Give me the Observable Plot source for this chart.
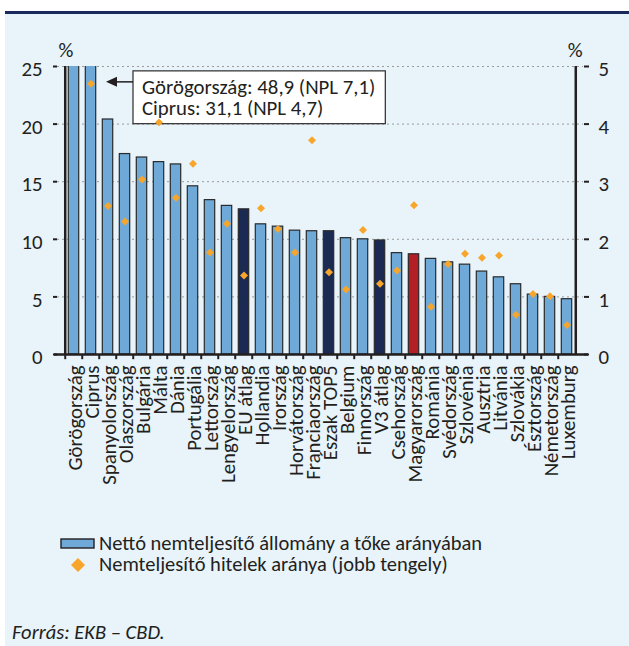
<!DOCTYPE html>
<html>
<head>
<meta charset="utf-8">
<script src="https://cdn.jsdelivr.net/npm/d3@7"></script>
<script src="https://cdn.jsdelivr.net/npm/@observablehq/plot@0.6"></script>
<style>
  body { margin: 0; background: #ffffff; font-family: Carlito, Calibri, Lato, sans-serif; color: #231f20; }
  #page { position: relative; width: 629px; height: 646px; overflow: hidden; }
  #topline { position: absolute; left: 5px; top: 11px; width: 624px; height: 3px; background: #1b2a5c; }
  #panel { position: absolute; left: 5px; top: 14px; right: 0; bottom: 0; background: #e8f3fa; }
  #chart { position: absolute; left: 0; top: 0; }
  #legend { position: absolute; left: 57px; top: 533px; font-size: 20.5px; line-height: 21px; }
  #legend .item { display: flex; align-items: center; white-space: nowrap; height: 21px; }
  #legend .key { width: 42px; display: flex; justify-content: center; }
  #caption { position: absolute; left: 12px; top: 620px; font-size: 20.5px; font-style: italic; line-height: 24px; }
</style>
</head>
<body>
<div id="page">
  <div id="topline"></div>
  <div id="panel"></div>
  <div id="chart"></div>
  <div id="legend">
    <div class="item"><span class="key"><svg width="36" height="11"><rect x="1" y="1" width="33" height="9" fill="#6fa9d8" stroke="#231f20" stroke-width="1.4"/></svg></span>Nettó nemteljesítő állomány a tőke arányában</div>
    <div class="item"><span class="key"><svg width="16" height="16"><path d="M8 1 L15 8 L8 15 L1 8 Z" fill="#f8a52c"/></svg></span>Nemteljesítő hitelek aránya (jobb tengely)</div>
  </div>
  <div id="caption">Forrás: EKB – CBD.</div>
</div>
<script>
// Categories (countries and group averages)
const countries = [
  "Görögország", "Ciprus", "Spanyolország", "Olaszország", "Bulgária", "Málta",
  "Dánia", "Portugália", "Lettország", "Lengyelország", "EU átlag", "Hollandia",
  "Írország", "Horvátország", "Franciaország", "Észak TOP5", "Belgium", "Finnország",
  "V3 átlag", "Csehország", "Magyarország", "Románia", "Svédország", "Szlovénia",
  "Ausztria", "Litvánia", "Szlovákia", "Észtország", "Németország", "Luxemburg"
];

// Net non-performing stock as a share of capital (%, left axis)
const netNpl = [
  48.9, 31.1, 20.4, 17.4, 17.1, 16.7,
  16.5, 14.6, 13.4, 12.9, 12.6, 11.3,
  11.1, 10.75, 10.7, 10.7, 10.1, 10.0,
  9.9, 8.8, 8.7, 8.3, 8.0, 7.8,
  7.2, 6.7, 6.1, 5.2, 5.0, 4.8
];

// Non-performing loan ratio (%, right axis)
const nplRatio = [
  7.1, 4.7, 2.58, 2.31, 3.04, 4.03,
  2.72, 3.31, 1.77, 2.27, 1.37, 2.54,
  2.18, 1.77, 3.72, 1.43, 1.13, 2.16,
  1.23, 1.46, 2.59, 0.83, 1.57, 1.75,
  1.68, 1.72, 0.69, 1.05, 1.01, 0.51
];

// Group averages and Hungary are highlighted
const averages = ["EU átlag", "Észak TOP5", "V3 átlag"];
const highlighted = ["Magyarország"];

const leftTicks = [0, 5, 10, 15, 20, 25];
const rightTicks = [0, 1, 2, 3, 4, 5];
const kinds = ["ország", "átlag", "Magyarország"];
const kindColors = ["#6fa9d8", "#1b2a52", "#b21f24"];

const leftMax = leftTicks[leftTicks.length - 1];
const rightMax = rightTicks[rightTicks.length - 1];
const k = leftMax / rightMax; // right axis values mapped onto the left scale

const rows = countries.map((c, i) => ({
  country: c,
  net: netNpl[i],
  npl: nplRatio[i],
  kind: highlighted.includes(c) ? kinds[2] : averages.includes(c) ? kinds[1] : kinds[0]
}));

const fmt = v => String(v).replace(".", ",");
const note = [0, 1].map(i => `${countries[i]}: ${fmt(netNpl[i])} (NPL ${fmt(nplRatio[i])})`).join("\n");

const W = 629, H = 500;
const mL = 57, mR = 46, mT = 66, mB = H - 354;
const step = (W - mL - mR) / countries.length;
const ink = "#231f20";
const fs = 20.8;
const family = "Carlito, Calibri, Lato, sans-serif";

const chart = Plot.plot({
  width: W,
  height: H,
  marginLeft: mL,
  marginRight: mR,
  marginTop: mT,
  marginBottom: mB,
  style: { background: "transparent", fontFamily: family, fontSize: `${fs}px`, color: ink },
  x: { domain: countries, padding: 0, axis: null },
  y: { domain: [0, leftMax], axis: null },
  color: { domain: kinds, range: kindColors },
  marks: [
    Plot.ruleY(leftTicks.slice(1), { stroke: "#9b9b9b", strokeWidth: 1, strokeDasharray: "2,3" }),
    Plot.barY(rows, {
      x: "country", y: "net", fill: "kind",
      stroke: "#2a2a2a", strokeWidth: 1.2,
      insetLeft: 3.3, insetRight: 3.3, clip: true
    }),
    Plot.dot(rows, {
      x: "country", y: d => d.npl * k,
      symbol: "diamond2", r: 3.6, fill: "#f8a52c", stroke: "none", clip: true
    }),
    // tick marks
    Plot.axisY({ anchor: "left", ticks: leftTicks, tickSize: 4, tickFormat: () => "", label: null, stroke: ink, strokeWidth: 2 }),
    Plot.axisY({ anchor: "right", ticks: rightTicks.map(v => v * k), tickFormat: () => "", tickSize: 5, label: null, stroke: ink, strokeWidth: 2 }),
    Plot.ruleX([countries[0]], { dx: -step / 2, y1: 0, y2: leftMax, stroke: ink, strokeWidth: 2.5 }),
    Plot.ruleX([countries[countries.length - 1]], { dx: step / 2, y1: 0, y2: leftMax, stroke: ink, strokeWidth: 2.5 }),
    Plot.ruleX(countries, { dx: -step / 2, y1: 0, y2: -0.45, stroke: ink, strokeWidth: 2 }),
    Plot.ruleY([0], { stroke: ink, strokeWidth: 2.5, insetLeft: -3, insetRight: -5 }),
    // tick labels
    Plot.text(leftTicks, { y: d => d, frameAnchor: "left", textAnchor: "end", dx: -15, dy: 3, fontSize: fs, fill: ink }),
    Plot.text(rightTicks, { y: d => d * k, text: d => String(d), frameAnchor: "right", textAnchor: "start", dx: 15, dy: 3, fontSize: fs, fill: ink }),
    Plot.text(countries, { x: d => d, text: d => d, frameAnchor: "bottom", rotate: -90, textAnchor: "end", lineAnchor: "middle", dy: 11, dx: 1, fontSize: fs, fill: ink }),
    // unit labels
    Plot.text(["%"], { frameAnchor: "top-left", textAnchor: "start", lineAnchor: "middle", dx: 1, dy: -16, fontSize: fs, fill: ink }),
    Plot.text(["%"], { frameAnchor: "top-right", textAnchor: "end", lineAnchor: "middle", dx: -1, dy: -16, fontSize: fs, fill: ink }),
    // annotation for the off-scale bars
    Plot.text([note], {
      x: () => countries[4], y: () => 22.3, text: d => d,
      textAnchor: "start", lineAnchor: "middle", lineHeight: 1.0,
      fontSize: fs, fill: ink
    })
  ]
});

document.getElementById("chart").appendChild(chart);

// Box and arrow behind the annotation, drawn beneath the diamonds
const svg = d3.select(chart);
const noteText = svg.selectAll("text").filter(function () {
  return this.textContent.startsWith(countries[0] + ":");
});
if (!noteText.empty()) {
  const node = noteText.node();
  const sr = chart.getBoundingClientRect();
  const tr = node.getBoundingClientRect();
  const bx = tr.left - sr.left, by = tr.top - sr.top;
  const x0 = bx - 9, y0 = by - 3, x1 = bx + tr.width + 10, y1 = by + tr.height + 3;
  const dots = svg.select('g[aria-label="dot"]');
  const before = dots.empty() ? node.parentNode : dots.node();
  const layer = svg.insert("g", () => before);
  layer.append("rect")
    .attr("x", x0).attr("y", y0).attr("width", x1 - x0).attr("height", y1 - y0)
    .attr("fill", "#ffffff").attr("stroke", "#3a3a3a").attr("stroke-width", 1.3);
  const xs = chart.scale("x");
  const tip = xs.apply(countries[2]) + 7;
  const ay = y0 + 11;
  layer.append("line").attr("x1", x0).attr("x2", tip + 8).attr("y1", ay).attr("y2", ay)
    .attr("stroke", ink).attr("stroke-width", 1.5);
  layer.append("path").attr("d", `M${tip},${ay} L${tip + 11},${ay - 5} L${tip + 11},${ay + 5} Z`).attr("fill", ink);
}
</script>
</body>
</html>
